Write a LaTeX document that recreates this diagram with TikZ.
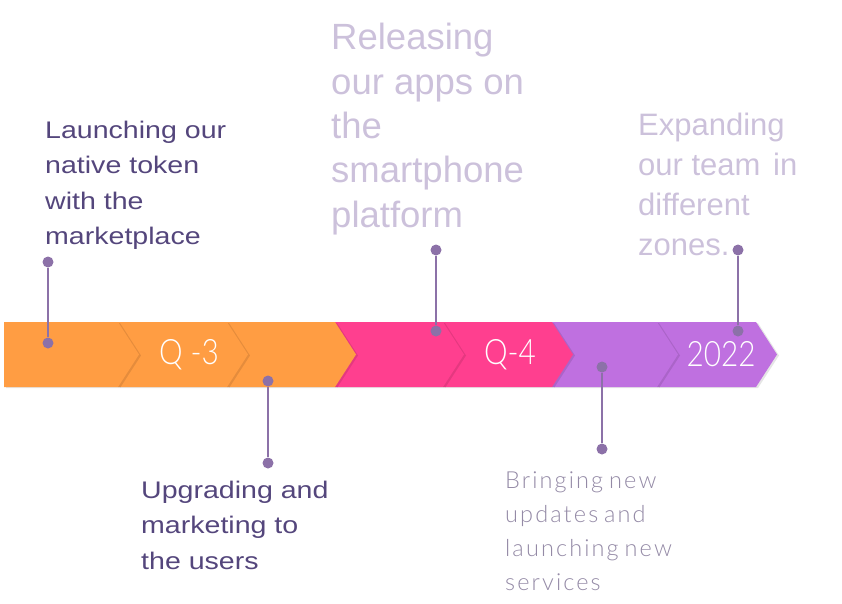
\documentclass[tikz,border=0pt]{standalone}
\usepackage{fontspec}
\setmainfont{Liberation Sans}
\newfontfamily\widefont{Liberation Sans}[FakeStretch=1.19]
\newfontfamily\thinfont{Lato Light}[FakeStretch=0.85]
\newfontfamily\spacedfont{Lato Light}[LetterSpace=9,WordSpace=0.7]
\definecolor{orng}{HTML}{FF9D43}
\definecolor{pnk}{HTML}{FF3F8F}
\definecolor{prp}{HTML}{BF70E0}
\definecolor{conn}{HTML}{8C71A8}
\definecolor{darktxt}{HTML}{54467C}
\definecolor{lighttxt}{HTML}{CCC1DB}
\definecolor{midtxt}{HTML}{948AA6}
\newcommand{\chev}[3]{%
  \fill[black,opacity=0.10] (#1+2,323) -- (#2+2,323) -- (#2+23,355.5) -- (#2+2,388) -- (#1+2,388) -- cycle;
  \fill[#3] (#1,322) -- (#2,322) -- (#2+21,354.5) -- (#2,387) -- (#1,387) -- cycle;}
\begin{document}
\begin{tikzpicture}[x=1pt,y=-1pt,
  dot/.style={circle,fill=conn,inner sep=0pt,minimum size=11pt},
  conline/.style={draw=conn,line width=2pt},
  bartxt/.style={text=white,font=\thinfont\fontsize{35}{40}\selectfont,inner sep=0pt},
  lbl/.style={align=left,inner sep=0pt,anchor=base west},
  lbldark/.style={lbl,text=darktxt,font=\widefont\fontsize{24}{35.5}\selectfont},
  lbllight/.style={lbl,text=lighttxt},
  lblthin/.style={lbl,text=midtxt,font=\spacedfont\fontsize{23.5}{34}\selectfont}]
\useasboundingbox (0,0) rectangle (842,603);
% bar, drawn right to left
\chev{657}{756}{prp}
\chev{552}{657}{prp}
\chev{443}{552}{pnk}
\chev{335}{443}{pnk}
\chev{227}{335}{orng}
\chev{118}{227}{orng}
\chev{4}{118}{orng}
\node[bartxt] (q3) at (189,354.5) {Q -3};
\node[bartxt] (q4) at (510,354.5) {Q-4};
\node[bartxt] (y22) at (721,354.5) {2022};
% labels
\node[lbldark] (t1) at (45,244.5) {Launching our\\native token\\with the\\marketplace};
\node[lbldark] (t2) at (141,569) {Upgrading and\\marketing to\\the users};
\node[lbllight,font=\fontsize{36.5}{44.3}\selectfont] (t3) at (331,227) {Releasing\\our apps on\\the\\smartphone\\platform};
\node[lbllight,font=\fontsize{31}{40}\selectfont] (t4) at (638,255) {Expanding\\our team\hspace{4pt} in\\different\\zones.};
\node[lblthin] (t5) at (505,590) {Bringing new\\updates and\\launching new\\services};
% connectors
\node[dot] (a1) at (48,262) {};
\node[dot] (a2) at (48,343) {};
\node[dot] (b1) at (268,381) {};
\node[dot] (b2) at (268,463) {};
\node[dot] (c1) at (436,250) {};
\node[dot] (c2) at (436,331) {};
\node[dot] (d1) at (602,367) {};
\node[dot] (d2) at (602,449) {};
\node[dot] (e1) at (738,250) {};
\node[dot] (e2) at (738,331) {};
\draw[conline] (a1) -- (a2);
\draw[conline] (b1) -- (b2);
\draw[conline] (c1) -- (c2);
\draw[conline] (d1) -- (d2);
\draw[conline] (e1) -- (e2);
\end{tikzpicture}
\end{document}
